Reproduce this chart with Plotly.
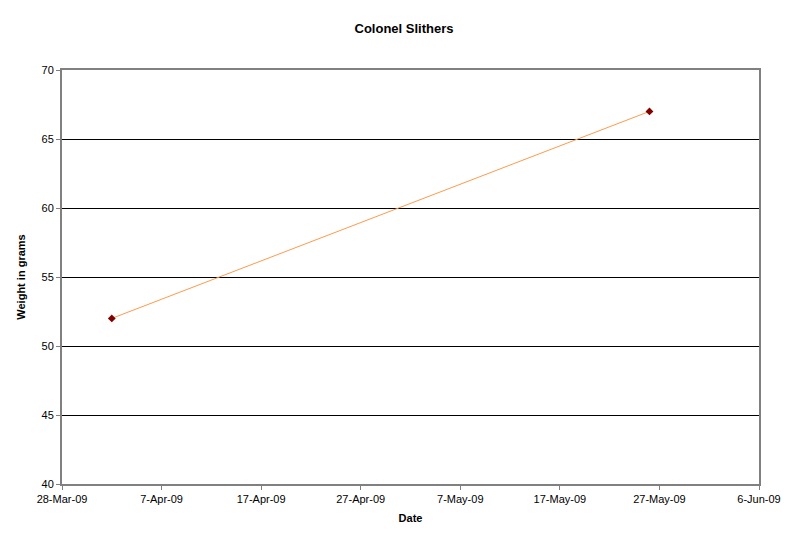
import plotly.graph_objects as go

# weigh-in dates and weights
dates = ["2009-04-02", "2009-05-26"]
weights = [52, 67]

x_tick_vals = ["2009-03-28", "2009-04-07", "2009-04-17", "2009-04-27",
               "2009-05-07", "2009-05-17", "2009-05-27", "2009-06-06"]
x_tick_text = ["28-Mar-09", "7-Apr-09", "17-Apr-09", "27-Apr-09",
               "7-May-09", "17-May-09", "27-May-09", "6-Jun-09"]
y_tick_vals = [40, 45, 50, 55, 60, 65, 70]

fig = go.Figure()

fig.add_trace(go.Scatter(
    x=dates,
    y=weights,
    mode="lines+markers",
    line=dict(color="#FF9A4D", width=1),
    marker=dict(symbol="diamond", size=6, color="#800000"),
    showlegend=False,
))

# page body has an 8px margin, so the figure is a bit smaller than the window
fig.update_layout(
    width=792,
    height=537,
    title=dict(text="<b>Colonel Slithers</b>", x=0.5, xanchor="center",
               yref="container", y=1 - 20 / 537, yanchor="middle",
               font=dict(family="Liberation Sans, Arial", size=13, color="black")),
    font=dict(family="Liberation Sans, Arial", size=11, color="black"),
    plot_bgcolor="white",
    paper_bgcolor="white",
    margin=dict(l=54, r=41, t=62, b=61),
)

fig.update_xaxes(
    range=["2009-03-28", "2009-06-06"],
    tickvals=x_tick_vals,
    ticktext=x_tick_text,
    ticks="outside",
    ticklen=4,
    tickcolor="#808080",
    showgrid=False,
    showline=True,
    linecolor="#808080",
    linewidth=2,
    mirror=True,
    zeroline=False,
    title=dict(text="<b>Date</b>", font=dict(size=11), standoff=10),
)

fig.update_yaxes(
    range=[40, 70],
    tickvals=y_tick_vals,
    ticks="outside",
    ticklen=4,
    tickcolor="#808080",
    showgrid=True,
    gridcolor="black",
    gridwidth=1,
    showline=True,
    linecolor="#808080",
    linewidth=2,
    mirror=True,
    zeroline=False,
    title=dict(text="<b>Weight in grams</b>", font=dict(size=11), standoff=14),
)

fig.write_html("out.html")
